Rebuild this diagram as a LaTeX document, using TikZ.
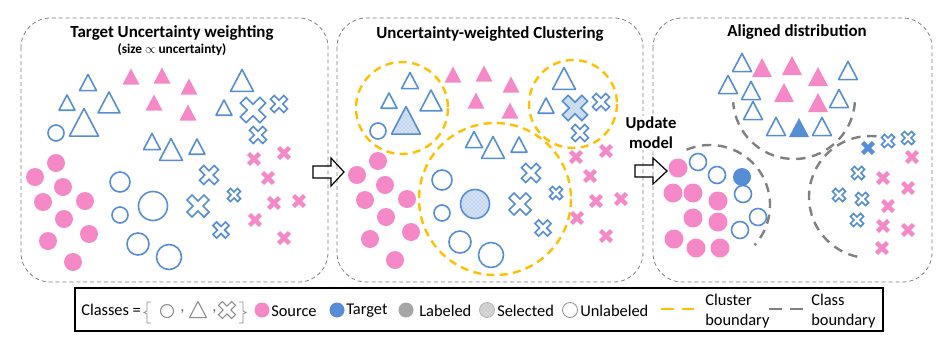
\documentclass[tikz,border=0pt]{standalone}
\usepackage{fontspec}
\setmainfont{Carlito}
\usetikzlibrary{patterns}

\definecolor{srcpink}{RGB}{245,137,199}
\definecolor{tgtblue}{RGB}{86,142,214}
\definecolor{lblgray}{RGB}{166,166,166}
\definecolor{clugold}{RGB}{255,192,0}
\definecolor{clsgray}{RGB}{128,128,128}

\tikzset{
  src/.style={fill=srcpink},
  tgt/.style={fill=tgtblue},
  unl/.style={draw=tgtblue,fill=white,line width=1.2pt},
  sel/.style={draw=tgtblue,line width=1.2pt,preaction={fill=tgtblue!25},pattern=crosshatch dots,pattern color=tgtblue!75},
  cls/.style={draw=black!45,fill=white,line width=0.8pt},
  panel/.style={draw=black!50,line width=0.6pt,dash pattern=on 3pt off 2.2pt,rounded corners=22pt},
  club/.style={draw=clugold,line width=1.8pt,dash pattern=on 6pt off 4pt},
  clsb/.style={draw=clsgray,line width=1.8pt,dash pattern=on 7pt off 5pt},
  ttl/.style={font=\bfseries\fontsize{12.7}{15}\selectfont,inner sep=0pt,anchor=base},
  lgd/.style={font=\fontsize{12.3}{14.5}\selectfont,inner sep=0pt,anchor=west},
  pics/tri/.style={code={\path[#1,line join=round] (-0.5,0.45) -- (0.5,0.45) -- (0,-0.5) -- cycle;}},
  pics/crs/.style={code={\path[#1,rotate=45] (0.16,0.16) -- (0.16,0.55) -- (-0.16,0.55) -- (-0.16,0.16)
      -- (-0.55,0.16) -- (-0.55,-0.16) -- (-0.16,-0.16) -- (-0.16,-0.55) -- (0.16,-0.55)
      -- (0.16,-0.16) -- (0.55,-0.16) -- (0.55,0.16) -- cycle;}},
}

% one cloud of points, #1 = look of the largest target of each class
\newcommand\cloud[1]{%
  \foreach \x/\y in {56/163,35/177,63/187,43/202,85/201,64/219,89/234,48/241,73/262}
    \fill[srcpink] (\x,\y) circle[radius=9];
  \foreach \x/\y/\rr in {56/133/8,120/182/10,120/215/8,138/244/11,169/257/12.5}
    \draw[unl] (\x,\y) circle[radius=\rr];
  \draw[#1] (153,206) circle[radius=14.5];
  \foreach \x/\y in {131/77,162/76,189/87,154/103,188/113}
    \pic[scale=17] at (\x,\y) {tri=src};
  \foreach \x/\y/\w in {88/83/17,67/103/16,109/103/22,152/142/17,171/150/23,197/147/16,242/81/23,224/108/16}
    \pic[scale=\w] at (\x,\y) {tri=unl};
  \pic[scale=29] at (84,123) {tri=#1};
  \foreach \x/\y in {284/153,254/159,268/178,274/203,299/201,255/220,284/238}
    \pic[scale=14] at (\x,\y) {crs=src};
  \foreach \x/\y/\w in {279/104/17,258/135/17,209/175/19,234/195/13,198/206/22,221/230/16}
    \pic[scale=\w] at (\x,\y) {crs=unl};
  \pic[scale=25] at (253,110) {crs=#1};
}

\begin{document}
\begin{tikzpicture}[x=0.75pt,y=-0.75pt]
\useasboundingbox (0,0) rectangle (952,336);

% panels
\draw[panel] (21,18) rectangle (328,282);
\draw[panel] (337,18) rectangle (643,282);
\draw[panel] (653,18) rectangle (932,282);

\node[ttl] (t1) at (172,37) {Target Uncertainty weighting};
\node[ttl,font=\bfseries\fontsize{10}{12}\selectfont] (t1s) at (172,53) {(size $\propto$ uncertainty)};
\node[ttl] (t2) at (490,38) {Uncertainty-weighted Clustering};
\node[ttl] (t3) at (797,36) {Aligned distribution};

% weighting
\cloud{unl}

% clustering
\begin{scope}[shift={(322,-2)}]
\cloud{sel}
\end{scope}
\draw[club] (402,108) circle[radius=46];
\draw[club] (573,104) circle[radius=44];
\draw[club] (495,199) circle[radius=76];

% arrows
\draw[line width=0.9pt,line join=miter] (313,166) -- (331,166) -- (331,158) -- (344,172) -- (331,186) -- (331,178) -- (313,178) -- cycle;
\node[fill=white,align=center,inner sep=1pt,font=\bfseries\fontsize{12.5}{15}\selectfont] (upd) at (651,133) {Update\\model};
\draw[line width=0.9pt,line join=miter] (635,165) -- (653,165) -- (653,158) -- (667,171) -- (653,184) -- (653,177) -- (635,177) -- cycle;

% aligned: triangles
\foreach \x/\y in {742/63,728/85,751/91,753/111,776/127,822/127,839/99,848/71}
  \pic[scale=19] at (\x,\y) {tri=unl};
\foreach \x/\y in {762/68,792/66,818/77,784/93,818/103}
  \pic[scale=20] at (\x,\y) {tri=src};
\pic[scale=20] at (799,128) {tri=tgt};
\draw[clsb] (794,98) ++(4:61) arc[start angle=4,end angle=176,radius=61];

% aligned: circles
\foreach \x/\y in {678/168,673/193,693/193,718/201,693/218,718/222,674/239,696/248,720/248}
  \fill[srcpink] (\x,\y) circle[radius=9.5];
\foreach \x/\y in {698/162,717/175,743/194,758/217,740/230}
  \draw[unl] (\x,\y) circle[radius=8.5];
\fill[tgtblue] (742,177) circle[radius=9];
\draw[clsb] (710,205) ++(-113:60) arc[start angle=-113,end angle=42,radius=60];

% aligned: crosses
\foreach \x/\y in {888/141,908/138,858/173,839/195,862/199,857/220}
  \pic[scale=13] at (\x,\y) {crs=unl};
\pic[scale=14] at (868,148) {crs=tgt};
\foreach \x/\y in {912/157,883/178,908/188,888/206,883/226,908/230,882/248}
  \pic[scale=14] at (\x,\y) {crs=src};
\draw[clsb] (870,197) ++(102:61) arc[start angle=102,end angle=277,radius=61];

% legend
\draw[line width=0.8pt] (75,288) rectangle (883,331);
\node[lgd] (lcls) at (81,310) {Classes =};
\draw[black!45,line width=0.6pt] (151,302) -- (147,302) -- (147,311) -- (144,312.5) -- (147,314) -- (147,323) -- (151,323);
\draw[cls] (167,311) circle[radius=6.5];
\node[lgd,text=black!60] (lc1) at (180,312) {,};
\pic[scale=17] at (198,310) {tri=cls};
\node[lgd,text=black!60] (lc2) at (212,312) {,};
\pic[scale=17] at (227,310) {crs=cls};
\draw[black!45,line width=0.6pt] (239,302) -- (243,302) -- (243,311) -- (246,312.5) -- (243,314) -- (243,323) -- (239,323);

\fill[srcpink] (262,310) circle[radius=7.5];
\node[lgd] (lsrc) at (271,311) {Source};
\fill[tgtblue] (337,310) circle[radius=7.5];
\node[lgd] (ltgt) at (346,311) {Target};
\fill[lblgray] (406,310) circle[radius=7.5];
\node[lgd] (llbl) at (419,311) {Labeled};
\draw[black!30,line width=0.6pt,preaction={fill=black!15},pattern=crosshatch dots,pattern color=black!40] (487,310) circle[radius=7.5];
\node[lgd] (lsel) at (497,311) {Selected};
\draw[black!45,line width=0.6pt,fill=white] (570,310) circle[radius=7.5];
\node[lgd] (lunl) at (580,311) {Unlabeled};

\coordinate (cb1) at (661,309);
\coordinate (cb2) at (695,309);
\draw[clugold,line width=2pt,dash pattern=on 9.5pt off 6pt] (cb1) -- (cb2);
\node[lgd,align=left] (lcb) at (705,311) {Cluster\\boundary};
\coordinate (cs1) at (769,309);
\coordinate (cs2) at (804,309);
\draw[clsgray,line width=2pt,dash pattern=on 9.5pt off 6.5pt] (cs1) -- (cs2);
\node[lgd,align=left] (lcs) at (811,311) {Class\\boundary};
\end{tikzpicture}
\end{document}
